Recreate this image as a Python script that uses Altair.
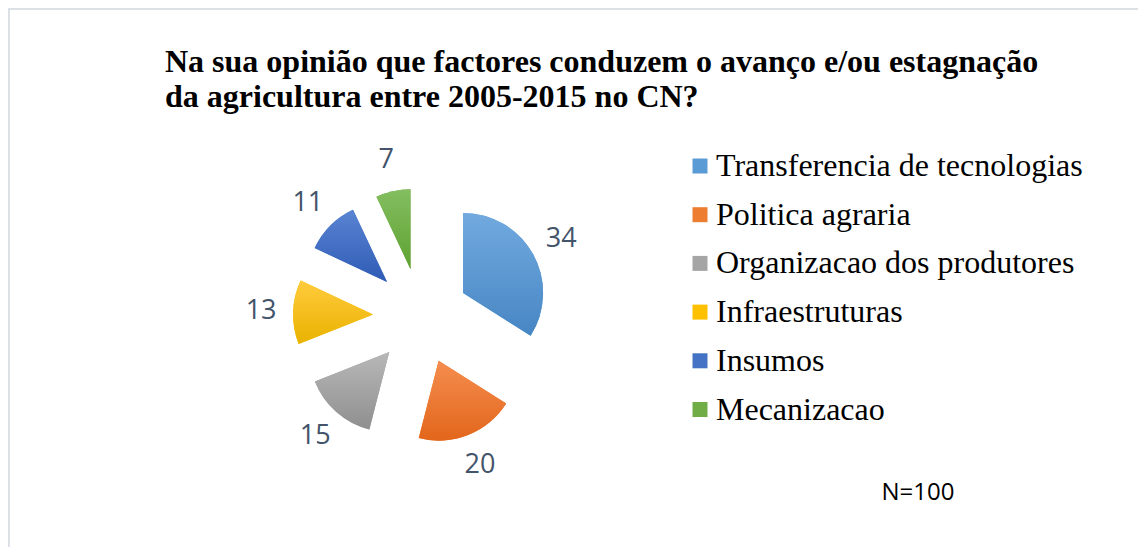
import altair as alt
import pandas as pd

categories = ["Transferencia de tecnologias", "Politica agraria", "Organizacao dos produtores",
              "Infraestruturas", "Insumos", "Mecanizacao"]
values = [34, 20, 15, 13, 11, 7]
solid_colors = ["#5B9BD5", "#ED7D31", "#A5A5A5", "#FFC000", "#4472C4", "#70AD47"]
grad_top = ["#72AADF", "#F58D4F", "#B8B8B8", "#FFCB3D", "#5A84D3", "#84BE60"]
grad_bottom = ["#4786C4", "#E2661B", "#8F8F8F", "#EAB200", "#2E5BB5", "#5EA232"]
title_lines = ["Na sua opinião que factores conduzem o avanço e/ou estagnação",
               "da agricultura entre 2005-2015 no CN?"]
note = "N=100"

W, H = 1130, 539
CX, CY = 413, 308
EXPLODE = 48
R = 80
RLAB = 160

df = pd.DataFrame({"cat": categories, "val": values, "order": list(range(len(values)))})

base = alt.Chart(df).transform_window(
    cum="sum(val)", sort=[alt.SortField("order")], frame=[None, 0]
).transform_joinaggregate(
    total="sum(val)"
).transform_calculate(
    start="2*PI*(datum.cum - datum.val)/datum.total",
    end="2*PI*datum.cum/datum.total",
).transform_calculate(
    mid="(datum.start + datum.end)/2"
).transform_calculate(
    cx=f"{CX} + {EXPLODE}*sin(datum.mid)",
    cy=f"{CY} - {EXPLODE}*cos(datum.mid)",
    lx=f"{CX} + {RLAB}*sin(datum.mid)",
    ly=f"{CY} - {RLAB}*cos(datum.mid)",
)

arc_enc = dict(
    theta=alt.Theta("start:Q", scale=None, stack=None),
    theta2="end:Q",
    x=alt.X("cx:Q", scale=None, axis=None),
    y=alt.Y("cy:Q", scale=None, axis=None),
)

solid = base.mark_arc(radius=R).encode(
    color=alt.Color(
        "cat:N",
        scale=alt.Scale(domain=categories, range=solid_colors),
        sort=categories,
        legend=alt.Legend(
            orient="none", legendX=676, legendY=142, title=None,
            symbolType="square", symbolSize=225, symbolStrokeWidth=0,
            labelFont="Liberation Serif", labelFontSize=32, labelColor="#000000",
            labelLimit=0, rowPadding=16.7, labelOffset=0, padding=0,
        ),
    ),
    **arc_enc,
)

layers = [solid]
for i, c in enumerate(categories):
    grad = {
        "gradient": "linear", "x1": 0, "y1": 0, "x2": 0, "y2": 1,
        "stops": [{"offset": 0, "color": grad_top[i]}, {"offset": 1, "color": grad_bottom[i]}],
    }
    layers.append(
        base.transform_filter(alt.datum.cat == c).mark_arc(radius=R).encode(
            color=alt.value(grad), **arc_enc
        )
    )

labels = base.mark_text(font="Open Sans", fontSize=27, color="#44546A",
                        align="center", baseline="middle").encode(
    x=alt.X("lx:Q", scale=None, axis=None),
    y=alt.Y("ly:Q", scale=None, axis=None),
    text=alt.Text("val:Q"),
)

title_df = pd.DataFrame({"t": title_lines, "line": [0, 1]})
title = alt.Chart(title_df).mark_text(
    font="Liberation Serif", fontSize=32, fontWeight="bold", color="#000000",
    align="left", baseline="alphabetic"
).encode(
    x=alt.value(157),
    y=alt.Y("line:Q", scale=alt.Scale(domain=[0, 1], range=[64, 99]), axis=None),
    text="t:N",
)

note_chart = alt.Chart(pd.DataFrame({"t": [note]})).mark_text(
    font="Open Sans", fontSize=24, color="#000000", align="center", baseline="middle"
).encode(x=alt.value(910), y=alt.value(485), text="t:N")

border_top = alt.Chart(pd.DataFrame({"a": [0]})).mark_rule(color="#DCE1E8", strokeWidth=2).encode(
    x=alt.value(0), x2=alt.value(W), y=alt.value(1)
)
border_left = alt.Chart(pd.DataFrame({"a": [0]})).mark_rule(color="#DCE1E8", strokeWidth=2).encode(
    x=alt.value(1), y=alt.value(0), y2=alt.value(H)
)

chart = alt.layer(border_top, border_left, *layers, labels, title, note_chart).properties(
    width=W, height=H,
    autosize=alt.AutoSizeParams(type="none"),
    padding=0,
    background="white",
).configure_view(stroke=None)

chart.save("out.html", embed_options={"renderer": "svg", "actions": False})
